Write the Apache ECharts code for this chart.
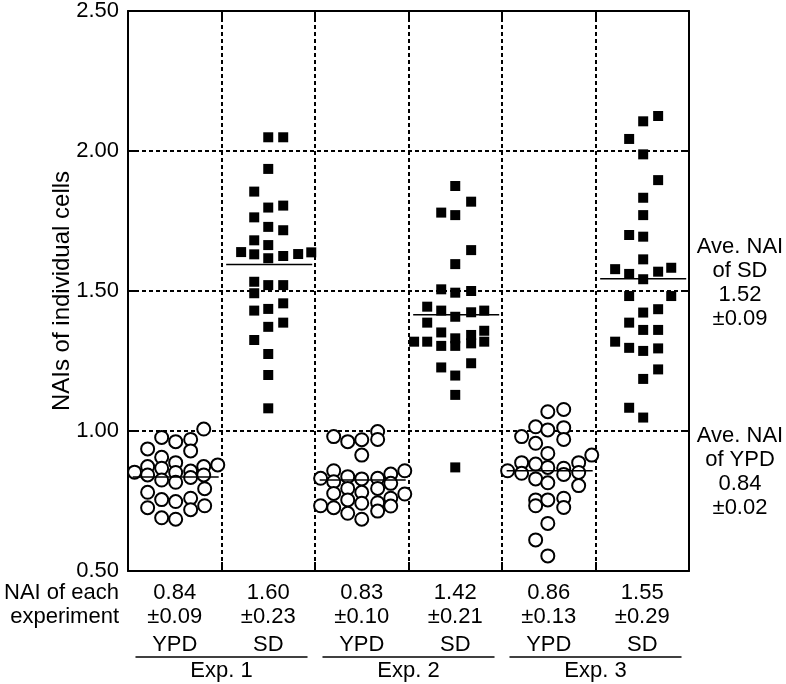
<!DOCTYPE html>
<html>
<head>
<meta charset="utf-8">
<script src="https://cdn.jsdelivr.net/npm/echarts@6/dist/echarts.min.js"></script>
<style>
html,body{margin:0;padding:0;background:#fff;}
#chart{width:786px;height:684px;}
</style>
</head>
<body>
<div id="chart"></div>
<script>
// ---- data ----
const categories = ['YPD', 'SD', 'YPD', 'SD', 'YPD', 'SD'];
const experiments = ['Exp. 1', 'Exp. 2', 'Exp. 3'];
const expMeans = ['0.84', '1.60', '0.83', '1.42', '0.86', '1.55'];
const expSDs = ['\u00b10.09', '\u00b10.23', '\u00b10.10', '\u00b10.21', '\u00b10.13', '\u00b10.29'];
const meanLines = [0.836, 1.595, 0.825, 1.415, 0.858, 1.544];
const yTicks = [0.5, 1.0, 1.5, 2.0, 2.5];
const aveSD = ['Ave. NAI', 'of SD', '1.52', '\u00b10.09'];
const aveYPD = ['Ave. NAI', 'of YPD', '0.84', '\u00b10.02'];

// [horizontal offset within column, NAI]
const ypd1 = [[0.31,1.007],[-0.14,0.977],[0.01,0.962],[0.17,0.970],[-0.29,0.936],[0.17,0.929],[-0.14,0.906],[0.01,0.887],[-0.29,0.873],[-0.14,0.867],[0.31,0.873],[0.46,0.879],[-0.43,0.853],[-0.29,0.843],[0.01,0.852],[0.17,0.857],[0.31,0.843],[-0.14,0.825],[0.01,0.817],[0.17,0.834],[-0.29,0.781],[0.32,0.794],[-0.14,0.755],[0.01,0.748],[0.17,0.760],[-0.29,0.726],[0.17,0.719],[0.32,0.733],[-0.14,0.690],[0.01,0.685]];
const sd1 = [[0,2.049],[0.16,2.049],[0,1.936],[-0.15,1.855],[0,1.798],[0.16,1.805],[-0.15,1.763],[0,1.729],[0.16,1.717],[-0.15,1.681],[0,1.664],[-0.29,1.639],[-0.15,1.631],[0,1.617],[0.16,1.625],[0.32,1.632],[0.46,1.638],[-0.15,1.533],[0,1.521],[0.16,1.521],[-0.15,1.492],[0.16,1.456],[-0.15,1.430],[0,1.436],[0,1.372],[0.16,1.387],[-0.15,1.325],[0,1.275],[0,1.200],[0,1.081]];
const ypd2 = [[0.17,0.998],[0,0.969],[-0.15,0.962],[0.17,0.970],[-0.30,0.980],[0,0.914],[-0.30,0.858],[-0.15,0.837],[0,0.829],[0.17,0.831],[0.31,0.846],[0.46,0.858],[-0.30,0.819],[-0.15,0.795],[0,0.781],[0.17,0.795],[0.31,0.813],[0.46,0.775],[-0.30,0.777],[-0.15,0.754],[0,0.742],[0.17,0.744],[0.31,0.760],[-0.30,0.726],[-0.15,0.706],[0.17,0.714],[0.31,0.732],[0,0.685],[-0.44,0.831],[-0.44,0.733]];
const sd2 = [[0,1.875],[0.17,1.819],[-0.15,1.780],[0,1.771],[0.17,1.646],[0,1.596],[-0.15,1.506],[0,1.494],[0.17,1.500],[-0.30,1.444],[-0.15,1.430],[0,1.408],[0.17,1.424],[0.31,1.430],[-0.30,1.387],[-0.15,1.352],[0.31,1.358],[-0.44,1.319],[-0.30,1.319],[-0.15,1.304],[0,1.331],[0,1.304],[0.17,1.343],[0.17,1.313],[0.31,1.319],[-0.15,1.227],[0.17,1.242],[0,1.198],[0,1.129],[0,0.870]];
const ypd3 = [[-0.44,0.858],[-0.29,0.980],[-0.29,0.887],[-0.29,0.849],[-0.14,1.015],[-0.14,0.956],[-0.14,0.882],[-0.14,0.829],[-0.14,0.754],[-0.14,0.733],[-0.14,0.611],[-0.01,1.069],[-0.01,1.004],[-0.01,0.920],[-0.01,0.870],[-0.01,0.815],[-0.01,0.754],[-0.01,0.670],[-0.01,0.554],[0.16,1.077],[0.16,1.012],[0.16,0.970],[0.16,0.867],[0.16,0.845],[0.16,0.760],[0.16,0.727],[0.32,0.887],[0.32,0.852],[0.32,0.805],[0.46,0.914]];
const sd3 = [[0.17,2.125],[0.01,2.106],[-0.14,2.043],[0.01,1.988],[0.17,1.896],[0.01,1.833],[0.01,1.771],[-0.14,1.700],[0.01,1.694],[0.01,1.613],[-0.29,1.578],[-0.14,1.561],[0.01,1.542],[0.17,1.569],[0.31,1.583],[-0.14,1.482],[0.31,1.482],[0.17,1.435],[0.01,1.423],[-0.14,1.387],[0.01,1.361],[0.17,1.361],[-0.29,1.319],[-0.14,1.297],[0.01,1.286],[0.17,1.295],[0.17,1.220],[0.01,1.186],[-0.14,1.083],[0.01,1.048]];
const columns = [ypd1, sd1, ypd2, sd2, ypd3, sd3];

// ---- chart ----
const FONT = '"Liberation Sans", Arial, Helvetica, sans-serif';
const FS = 22;
const chart = echarts.init(document.getElementById('chart'), null, {renderer: 'canvas'});
const dash = {color: '#000', width: 2, type: [4, 3]};

const series = [];
columns.forEach((pts, i) => {
  const isSD = categories[i] === 'SD';
  series.push({
    type: 'scatter',
    xAxisIndex: 0, yAxisIndex: 0,
    symbol: isSD ? 'rect' : 'circle',
    symbolSize: isSD ? 10 : 13,
    itemStyle: isSD ? {color: '#000', opacity: 1} : {color: '#fff', borderColor: '#000', borderWidth: 2, opacity: 1},
    data: pts.map(p => [i + 0.5 + p[0], p[1]]),
    z: 3
  });
  series.push({
    type: 'line',
    xAxisIndex: 0, yAxisIndex: 0,
    symbol: 'none',
    lineStyle: {color: '#000', width: 1.5},
    data: [[i + 0.05, meanLines[i]], [i + 0.97, meanLines[i]]],
    z: 4,
    silent: true
  });
});

const option = {
  backgroundColor: '#fff',
  animation: false,
  grid: {left: 128, right: 97, top: 11, bottom: 113, containLabel: false},
  xAxis: [
    {type: 'value', min: 0, max: 6, interval: 1, position: 'bottom',
     axisLine: {show: true, onZero: false, lineStyle: {color: '#000', width: 2}},
     axisTick: {show: true, inside: true, length: 9, lineStyle: {color: '#000', width: 2}},
     axisLabel: {show: false},
     splitLine: {show: true, lineStyle: dash}},
    {type: 'value', min: 0, max: 6, interval: 1, position: 'top',
     axisLine: {show: true, onZero: false, lineStyle: {color: '#000', width: 2}},
     axisTick: {show: true, inside: true, length: 9, lineStyle: {color: '#000', width: 2}},
     axisLabel: {show: false}, splitLine: {show: false}}
  ],
  yAxis: [
    {type: 'value', min: 0.5, max: 2.5, interval: 0.5, position: 'left',
     name: 'NAIs of individual cells', nameLocation: 'middle', nameGap: 54, nameRotate: 90,
     nameMoveOverlap: false,
     nameTextStyle: {fontFamily: FONT, fontSize: 24, color: '#000'},
     axisLine: {show: true, onZero: false, lineStyle: {color: '#000', width: 2}},
     axisTick: {show: true, inside: true, length: 8, lineStyle: {color: '#000', width: 2}},
     axisLabel: {fontFamily: FONT, fontSize: FS, color: '#000', margin: 9,
       formatter: v => v.toFixed(2)},
     splitLine: {show: true, lineStyle: dash}},
    {type: 'value', min: 0.5, max: 2.5, interval: 0.5, position: 'right',
     axisLine: {show: true, onZero: false, lineStyle: {color: '#000', width: 2}},
     axisTick: {show: true, inside: true, length: 8, lineStyle: {color: '#000', width: 2}},
     axisLabel: {show: false}, splitLine: {show: false}}
  ],
  series: series
};
chart.setOption(option);

// ---- text annotations positioned via the axes ----
const g = [];
const txt = (x, y, s, align) => ({type: 'text', x: x, y: y,
  style: {text: s, fontFamily: FONT, fontSize: FS, fill: '#000', align: align || 'center', verticalAlign: 'middle'}});
const y0 = chart.convertToPixel({yAxisIndex: 0}, 0.5);
const rowY = [y0 + 22, y0 + 46, y0 + 74];
categories.forEach((c, i) => {
  const cx = chart.convertToPixel({xAxisIndex: 0}, i + 0.5);
  g.push(txt(cx, rowY[0], expMeans[i]));
  g.push(txt(cx, rowY[1], expSDs[i]));
  g.push(txt(cx, rowY[2], c));
});
g.push(txt(119, rowY[0], 'NAI of each', 'right'));
g.push(txt(119, rowY[1], 'experiment', 'right'));
experiments.forEach((e, k) => {
  const xa = chart.convertToPixel({xAxisIndex: 0}, 2 * k + 0.08);
  const xb = chart.convertToPixel({xAxisIndex: 0}, 2 * k + 1.92);
  g.push({type: 'line', shape: {x1: xa, y1: y0 + 86, x2: xb, y2: y0 + 86}, style: {stroke: '#000', lineWidth: 1.5}});
  g.push(txt((xa + xb) / 2, y0 + 100, e));
});
const rx = 740;
const ySD = chart.convertToPixel({yAxisIndex: 0}, 1.52);
aveSD.forEach((s, k) => {
  g.push(txt(rx, ySD - 38 + k * 24, s));
});
const yYPD = chart.convertToPixel({yAxisIndex: 0}, 1.0);
aveYPD.forEach((s, k) => {
  g.push(txt(rx, yYPD + 5 + k * 24, s));
});
chart.setOption({graphic: g});
</script>
</body>
</html>
